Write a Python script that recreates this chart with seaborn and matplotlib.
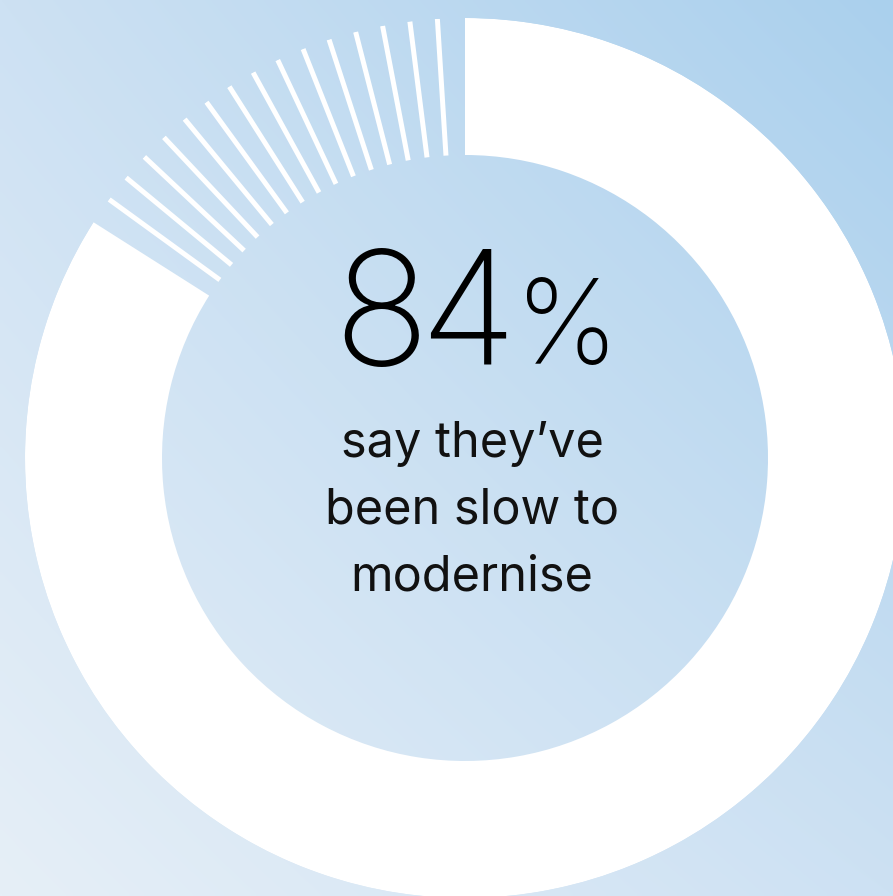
import numpy as np
import matplotlib
matplotlib.use("Agg")
import matplotlib.pyplot as plt
import seaborn as sns

# ---- data ----
share_labels = ["slow to modernise", "other"]
share_values = [84, 16]
stripe_percents = [85, 86, 87, 88, 89, 90, 91, 92, 93, 94, 95, 96, 97, 98, 99]
headline_digits = ["8", "4"]
headline_unit = "%"
caption_lines = ["say they\u2019ve", "been slow to", "modernise"]

sns.set_style("white")
plt.rcParams['font.family'] = ['Inter', 'DejaVu Sans']

W, H = 893, 896
fig = plt.figure(figsize=(W / 100, H / 100), dpi=100)

# background gradient (bilinear between corner colours)
bg = fig.add_axes([0, 0, 1, 1])
tl = np.array([205, 225, 243]) / 255
tr = np.array([170, 208, 237]) / 255
bl = np.array([230, 239, 247]) / 255
br = np.array([205, 225, 243]) / 255
u = np.linspace(0, 1, 200)[None, :, None]
v = np.linspace(0, 1, 200)[:, None, None]
img = (1 - v) * ((1 - u) * tl + u * tr) + v * ((1 - u) * bl + u * br)
bg.imshow(img, interpolation="bilinear", extent=[0, 1, 0, 1], aspect="auto")
bg.set_axis_off()

# donut on polar axes (units in pixels)
cx, cy, R_out, R_in = 465, 458, 440, 303
ax = fig.add_axes([(cx - R_out) / W, (H - cy - R_out) / H, 2 * R_out / W, 2 * R_out / H],
                  projection="polar")
ax.set_theta_zero_location("N")
ax.set_theta_direction(-1)
ax.set_ylim(0, R_out)
ax.patch.set_alpha(0)
ax.set_axis_off()

total = sum(share_values)
frac = share_values[0] / total
ax.bar(frac * np.pi, R_out - R_in, width=frac * 2 * np.pi, bottom=R_in,
       color="white", edgecolor="none", align="center")

thetas = np.array(stripe_percents) / 100 * 2 * np.pi
ax.vlines(thetas, R_in, R_out, colors="white", linewidth=3.6, capstyle="butt")

# text
for d, xc in zip(headline_digits, [381, 468]):
    fig.text(xc / W, 1 - 365 / H, d, ha="center", va="baseline",
             fontsize=114, color="black", fontweight="light")
fig.text(567 / W, 1 - 363 / H, headline_unit, ha="center", va="baseline",
         fontsize=84, color="black", fontweight="light")
for line, base in zip(caption_lines, [457, 523, 590]):
    fig.text(472 / W, 1 - base / H, line, ha="center", va="baseline",
             fontsize=35, color="#111111", fontweight="normal")

fig.savefig("out.png", dpi=100)
